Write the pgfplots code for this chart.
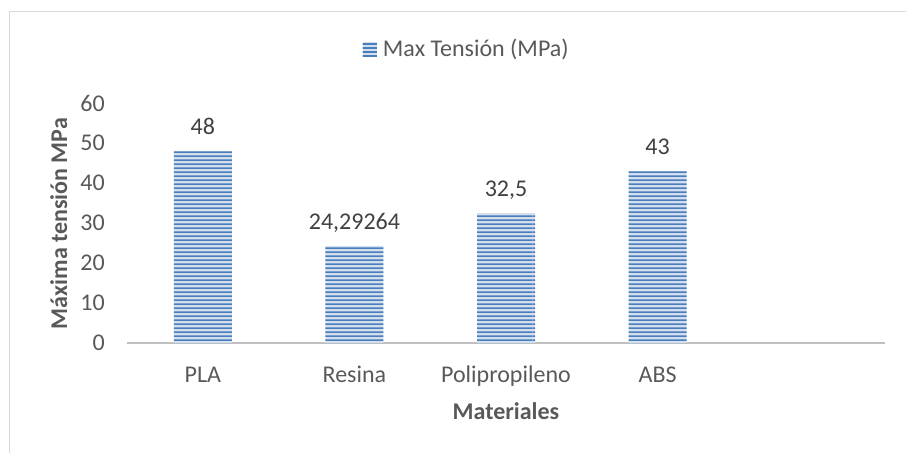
\documentclass[border=0pt]{standalone}
\usepackage{fontspec}
\setmainfont{Carlito}
\usepackage{pgfplots}
\pgfplotsset{compat=1.18}
\usetikzlibrary{patterns.meta}
\definecolor{txt}{HTML}{595959}
\definecolor{lbl}{HTML}{404040}
\definecolor{barblue}{HTML}{4A7EBB}
\definecolor{barlight}{HTML}{D3DFEF}
\definecolor{axisgray}{HTML}{BFBFBF}
\definecolor{framegray}{HTML}{D9D9D9}
\tikzdeclarepattern{
  name=hstripe,
  type=uncolored,
  bounding box={(0pt,0pt) and (200pt,3pt)},
  tile size={(200pt,3pt)},
  code={\fill (0pt,0pt) rectangle (200pt,1.6pt);}
}
\begin{document}
\begin{tikzpicture}
\useasboundingbox (0pt,0pt) rectangle (679.5pt,-339.75pt);
\draw[framegray, line width=1.1pt] (7.1pt,-345pt) -- (7.1pt,-8.6pt) -- (690pt,-8.6pt);
\begin{axis}[
  at={(95.25pt,-257.25pt)}, anchor=south west,
  scale only axis, width=568.5pt, height=180pt,
  font=\fontsize{18}{21}\selectfont,
  xmin=-0.5, xmax=4.5, ymin=0, ymax=60,
  ytick={0,10,...,60},
  xtick={0,1,2,3}, xticklabels={PLA,Resina,Polipropileno,ABS},
  /pgf/number format/assume math mode=true,
  major tick length=0pt,
  axis lines*=left,
  x axis line style={-, draw=axisgray, line width=2pt},
  y axis line style={draw=none},
  yticklabel style={anchor=east, inner sep=0pt, xshift=-16.5pt, text=txt},
  xticklabel style={anchor=base, inner sep=0pt, yshift=-29.25pt, text=txt},
  xlabel={\bfseries Materiales},
  ylabel={\bfseries Máxima tensión MPa},
  every axis x label/.style={at={(axis description cs:0.5,-0.283)}, anchor=center, text=txt},
  every axis y label/.style={at={(axis description cs:-0.090,0.498)}, anchor=center, rotate=90, text=txt},
  legend style={at={(axis description cs:0.3113,1.225)}, anchor=west, draw=none, fill=none,
    inner sep=0pt, outer sep=0pt, nodes={inner sep=0pt, text=txt}, /tikz/column sep=4.5pt},
  legend image code/.code={\fill[barlight] (0pt,-5.25pt) rectangle (10.5pt,5.25pt);
    \fill[pattern=hstripe, pattern color=barblue] (0pt,-5.25pt) rectangle (10.5pt,5.25pt);},
]
\addplot[ybar, bar width=43.5pt, draw=none, fill=barlight,
  postaction={pattern=hstripe, pattern color=barblue},
  point meta=explicit symbolic,
  nodes near coords,
  nodes near coords style={anchor=base, yshift=12.3pt, text=lbl, inner sep=0pt},
] table[x=x, y=y, meta=lab] {
x y lab
0 48 48
1 24.29264 24,29264
2 32.5 32,5
3 43 43
};
\addlegendentry{Max Tensión (MPa)}
\end{axis}
\end{tikzpicture}
\end{document}
